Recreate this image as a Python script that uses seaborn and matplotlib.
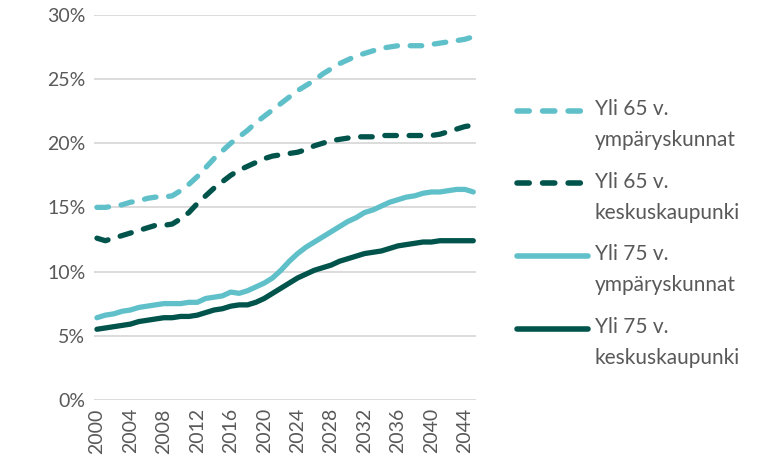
import matplotlib
matplotlib.use("Agg")
import matplotlib.pyplot as plt
import numpy as np
import pandas as pd
import seaborn as sns

years = list(range(2000, 2046))

yli65_ymp = [15.0, 15.0, 15.1, 15.2, 15.4, 15.5, 15.7, 15.8, 15.8, 15.9, 16.3, 16.8,
             17.4, 18.1, 18.8, 19.4, 20.0, 20.5, 21.0, 21.6, 22.1, 22.6, 23.1, 23.6,
             24.1, 24.5, 24.9, 25.4, 25.8, 26.2, 26.5, 26.8, 27.0, 27.2, 27.4, 27.5,
             27.6, 27.6, 27.6, 27.6, 27.7, 27.8, 27.9, 28.0, 28.1, 28.3]
yli65_kesk = [12.6, 12.4, 12.6, 12.8, 13.0, 13.2, 13.4, 13.6, 13.6, 13.7, 14.1, 14.6,
              15.3, 15.9, 16.5, 17.0, 17.5, 17.9, 18.2, 18.5, 18.8, 19.0, 19.1, 19.2,
              19.3, 19.5, 19.8, 20.0, 20.2, 20.3, 20.4, 20.5, 20.5, 20.5, 20.6, 20.6,
              20.6, 20.6, 20.6, 20.6, 20.6, 20.7, 20.9, 21.1, 21.3, 21.4]
yli75_ymp = [6.4, 6.6, 6.7, 6.9, 7.0, 7.2, 7.3, 7.4, 7.5, 7.5, 7.5, 7.6,
             7.6, 7.9, 8.0, 8.1, 8.4, 8.3, 8.5, 8.8, 9.1, 9.5, 10.1, 10.8,
             11.4, 11.9, 12.3, 12.7, 13.1, 13.5, 13.9, 14.2, 14.6, 14.8, 15.1, 15.4,
             15.6, 15.8, 15.9, 16.1, 16.2, 16.2, 16.3, 16.4, 16.4, 16.2]
yli75_kesk = [5.5, 5.6, 5.7, 5.8, 5.9, 6.1, 6.2, 6.3, 6.4, 6.4, 6.5, 6.5,
              6.6, 6.8, 7.0, 7.1, 7.3, 7.4, 7.4, 7.6, 7.9, 8.3, 8.7, 9.1,
              9.5, 9.8, 10.1, 10.3, 10.5, 10.8, 11.0, 11.2, 11.4, 11.5, 11.6, 11.8,
              12.0, 12.1, 12.2, 12.3, 12.3, 12.4, 12.4, 12.4, 12.4, 12.4]

labels = ["Yli 65 v.\nympäryskunnat", "Yli 65 v.\nkeskuskaupunki",
          "Yli 75 v.\nympäryskunnat", "Yli 75 v.\nkeskuskaupunki"]

light = "#60C0C9"
dark = "#00544B"

df = pd.DataFrame({
    "year": years * 4,
    "value": yli65_ymp + yli65_kesk + yli75_ymp + yli75_kesk,
    "series": sum([[l] * len(years) for l in labels], []),
})

sns.set_style("white")
plt.rcParams["font.family"] = ["Lato", "DejaVu Sans"]

fig = plt.figure(figsize=(7.8, 4.66), dpi=100)
ax = fig.add_axes([0.12, 0.142, 0.49, 0.826])

palette = {labels[0]: light, labels[1]: dark, labels[2]: light, labels[3]: dark}
dashes = {labels[0]: (2.2, 2.4), labels[1]: (2.2, 2.4), labels[2]: "", labels[3]: ""}

sns.lineplot(data=df, x="year", y="value", hue="series", style="series",
             hue_order=labels, style_order=labels, palette=palette, dashes=dashes,
             linewidth=3.8, ax=ax)
for ln in ax.get_lines():
    ln.set_dash_capstyle("round")
    ln.set_solid_capstyle("round")

ax.set_xlim(2000 - 0.4, 2045.3)
ax.set_ylim(0, 30)
ax.set_yticks(np.arange(0, 31, 5))
ax.set_yticklabels([f"{v}%" for v in range(0, 31, 5)])
ax.set_xticks(range(2000, 2045, 4))
ax.tick_params(axis="x", rotation=90)
ax.tick_params(colors="#595959", labelsize=14, length=0, pad=6)
ax.yaxis.grid(True, color="#D9D9D9", linewidth=1.3)
ax.xaxis.grid(False)
for s in ax.spines.values():
    s.set_visible(False)
ax.set_xlabel("")
ax.set_ylabel("")

leg = ax.legend(loc="center left", bbox_to_anchor=(1.06, 0.432), frameon=False,
                fontsize=15, handlelength=3.4, handletextpad=0.3,
                labelspacing=1.05, labelcolor="#595959")
for t in leg.get_texts():
    t.set_linespacing(1.68)
for h in leg.get_lines():
    h.set_linewidth(4)
    h.set_dash_capstyle("round")
    h.set_solid_capstyle("round")
    h.set_ydata(np.asarray(h.get_ydata()) + 10.5)

fig.savefig("out.png", dpi=100)
